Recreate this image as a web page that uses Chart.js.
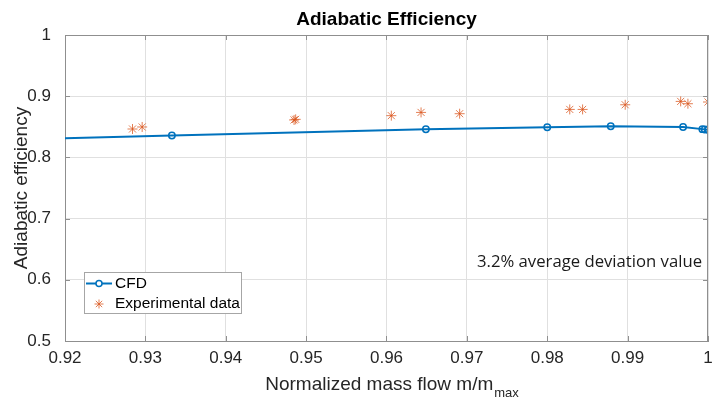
<!DOCTYPE html>
<html lang="en">
<head>
<meta charset="UTF-8">
<title>Adiabatic Efficiency</title>
<script src="https://cdn.jsdelivr.net/npm/chart.js"></script>
<style>
  html, body { margin: 0; padding: 0; background: #fff; }
  #wrap { width: 714px; height: 401px; }
</style>
</head>
<body>
<div id="wrap"><canvas id="chart" width="714" height="401"></canvas></div>
<script>
// CFD curve (first point sits left of the visible range and is clipped)
const cfdFlow = [0.900, 0.9333, 0.9649, 0.9800, 0.9879, 0.9969, 0.9993, 0.9996, 1.000];
const cfdEff  = [0.825, 0.8357, 0.8459, 0.8492, 0.8508, 0.8497, 0.8462, 0.8456, 0.8452];

// experimental points
const expFlow = [0.9284, 0.9296, 0.9485, 0.9487, 0.9606, 0.9643, 0.9691, 0.9828, 0.9844, 0.9897, 0.9966, 0.9975, 1.000];
const expEff  = [0.8464, 0.8497, 0.8612, 0.8622, 0.8682, 0.8735, 0.8714, 0.8784, 0.8784, 0.8860, 0.8915, 0.8877, 0.8905];

const xMin = 0.92, xMax = 1.0, xStep = 0.01;
const yMin = 0.5, yMax = 1.0, yStep = 0.1;

const titleText = 'Adiabatic Efficiency';
const xTitle = 'Normalized mass flow m/m';
const xTitleSub = 'max';
const yTitle = 'Adiabatic efficiency';
const noteText = '3.2% average deviation value';
const seriesNames = ['CFD', 'Experimental data'];

const blue = '#0072BD';
const orange = 'rgba(217,83,25,0.75)';
const axisGrey = '#8f8f8f';
const txt = '#262626';
const sans = '"Liberation Sans", Arial, sans-serif';

function drawStar(ctx, cx, cy, r) {
    ctx.beginPath();
    ctx.moveTo(cx - r, cy); ctx.lineTo(cx + r, cy);
    ctx.moveTo(cx, cy - r); ctx.lineTo(cx, cy + r);
    const d = r * Math.SQRT1_2;
    ctx.moveTo(cx - d, cy - d); ctx.lineTo(cx + d, cy + d);
    ctx.moveTo(cx - d, cy + d); ctx.lineTo(cx + d, cy - d);
    ctx.stroke();
}

// titles, box, inner ticks, note and legend
const decor = {
    id: 'decor',
    afterDraw(chart) {
        const { ctx, chartArea: a, scales: { x, y } } = chart;
        ctx.save();

        // box
        ctx.strokeStyle = axisGrey;
        ctx.lineWidth = 1;
        ctx.beginPath();
        ctx.moveTo(a.left, a.top + 0.5); ctx.lineTo(a.right, a.top + 0.5);
        ctx.moveTo(a.right - 0.5, a.top); ctx.lineTo(a.right - 0.5, a.bottom);
        ctx.stroke();

        // ticks pointing inwards
        ctx.beginPath();
        x.ticks.forEach(t => {
            const px = Math.round(x.getPixelForValue(t.value)) + 0.5;
            ctx.moveTo(px, a.bottom); ctx.lineTo(px, a.bottom - 5);
            ctx.moveTo(px, a.top); ctx.lineTo(px, a.top + 5);
        });
        y.ticks.forEach(t => {
            const py = Math.round(y.getPixelForValue(t.value)) + 0.5;
            ctx.moveTo(a.left, py); ctx.lineTo(a.left + 5, py);
            ctx.moveTo(a.right, py); ctx.lineTo(a.right - 5, py);
        });
        ctx.stroke();

        // title
        ctx.fillStyle = '#000';
        ctx.font = 'bold 19px ' + sans;
        ctx.textAlign = 'center';
        ctx.textBaseline = 'middle';
        ctx.fillText(titleText, (a.left + a.right) / 2, 20);

        // x axis title with subscript
        ctx.fillStyle = txt;
        ctx.textAlign = 'left';
        ctx.textBaseline = 'alphabetic';
        ctx.font = '19px ' + sans;
        const wMain = ctx.measureText(xTitle).width;
        ctx.font = '13px ' + sans;
        const wSub = ctx.measureText(xTitleSub).width;
        const x0 = (a.left + a.right) / 2 + 5 - (wMain + wSub) / 2;
        ctx.font = '19px ' + sans;
        ctx.fillText(xTitle, x0, 390);
        ctx.font = '13px ' + sans;
        ctx.fillText(xTitleSub, x0 + wMain + 1, 397);

        // y axis title
        ctx.save();
        ctx.translate(22, (a.top + a.bottom) / 2);
        ctx.rotate(-Math.PI / 2);
        ctx.font = '19px ' + sans;
        ctx.textAlign = 'center';
        ctx.textBaseline = 'middle';
        ctx.fillText(yTitle, 0, 0);
        ctx.restore();

        // note
        ctx.font = '16.7px "Open Sans", "Noto Sans", sans-serif';
        ctx.textAlign = 'left';
        ctx.textBaseline = 'middle';
        ctx.fillStyle = '#1a1a1a';
        ctx.fillText(noteText, 477, 262);

        // legend
        const lx = 84.5, ly = 272.5, lw = 157, lh = 41;
        ctx.fillStyle = '#fff';
        ctx.fillRect(lx, ly, lw, lh);
        ctx.strokeStyle = '#a6a6a6';
        ctx.strokeRect(lx, ly, lw, lh);

        ctx.strokeStyle = blue;
        ctx.lineWidth = 2;
        ctx.beginPath();
        ctx.moveTo(86, 283.5); ctx.lineTo(112, 283.5);
        ctx.stroke();
        ctx.lineWidth = 1.5;
        ctx.fillStyle = '#fff';
        ctx.beginPath();
        ctx.arc(99, 283.5, 3, 0, Math.PI * 2);
        ctx.fill();
        ctx.stroke();

        ctx.strokeStyle = orange;
        ctx.lineWidth = 1;
        drawStar(ctx, 99, 304, 4.5);

        ctx.fillStyle = '#000';
        ctx.font = '15.5px ' + sans;
        ctx.textBaseline = 'middle';
        ctx.fillText(seriesNames[0], 115, 284);
        ctx.fillText(seriesNames[1], 115, 304);

        ctx.restore();
    }
};

const ctx = document.getElementById('chart').getContext('2d');
new Chart(ctx, {
    type: 'scatter',
    data: {
        datasets: [
            {
                label: seriesNames[0],
                data: cfdFlow.map((v, i) => ({ x: v, y: cfdEff[i] })),
                showLine: true,
                borderColor: blue,
                borderWidth: 2,
                pointRadius: 3.2,
                pointBorderWidth: 1.5,
                pointBorderColor: blue,
                pointBackgroundColor: 'rgba(255,255,255,0)',
                tension: 0,
                clip: 0
            },
            {
                label: seriesNames[1],
                data: expFlow.map((v, i) => ({ x: v, y: expEff[i] })),
                showLine: false,
                pointStyle: 'star',
                pointRadius: 5,
                pointBorderWidth: 1,
                pointBorderColor: orange,
                borderColor: orange,
                clip: 0
            }
        ]
    },
    options: {
        responsive: false,
        animation: false,
        events: [],
        layout: { padding: { top: 35, right: 3, left: 0, bottom: 0 } },
        plugins: {
            legend: { display: false },
            title: { display: false },
            tooltip: { enabled: false }
        },
        scales: {
            x: {
                type: 'linear',
                min: xMin,
                max: xMax,
                ticks: {
                    stepSize: xStep,
                    padding: 7,
                    color: txt,
                    maxRotation: 0,
                    autoSkip: false,
                    font: { family: sans, size: 17 },
                    callback: v => String(+v.toFixed(2))
                },
                grid: { color: '#e0e0e0', drawTicks: false },
                border: { color: axisGrey },
                afterFit: s => { s.height = 60; s.paddingLeft = 0; s.paddingRight = 0; }
            },
            y: {
                min: yMin,
                max: yMax,
                ticks: {
                    stepSize: yStep,
                    padding: 14,
                    color: txt,
                    font: { family: sans, size: 17 },
                    callback: v => String(+v.toFixed(1))
                },
                grid: { color: '#e0e0e0', drawTicks: false },
                border: { color: axisGrey },
                afterFit: s => { s.width = 65; s.paddingTop = 0; s.paddingBottom = 0; }
            }
        }
    },
    plugins: [decor]
});
</script>
</body>
</html>
